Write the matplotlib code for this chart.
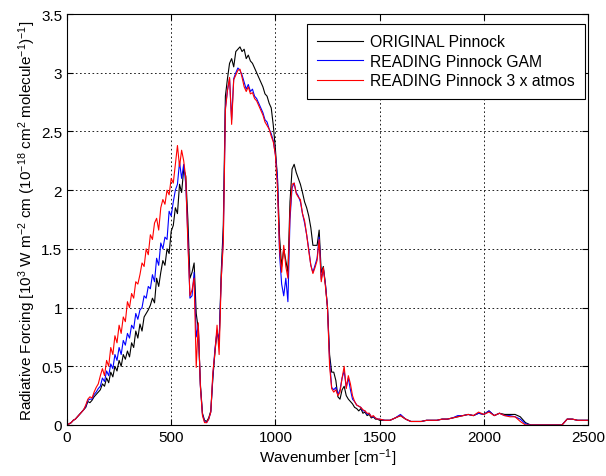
import numpy as np
import matplotlib
matplotlib.use("Agg")
import matplotlib.pyplot as plt

plt.rcParams["font.family"] = ["Liberation Sans", "DejaVu Sans"]
plt.rcParams["mathtext.default"] = "regular"

# ── Data ──────────────────────────────────────────────────────────────────────
# wavenumber grid: 10 cm-1 steps up to 1500, 25 cm-1 steps beyond
wn = np.concatenate([np.arange(0, 1501, 10), np.arange(1525, 2501, 25)])

original = [
    0.00, 0.01, 0.02, 0.04, 0.05, 0.07, 0.09, 0.11, 0.13, 0.15,
    0.20, 0.19, 0.21, 0.24, 0.26, 0.28, 0.30, 0.35, 0.33, 0.40,
    0.36, 0.45, 0.41, 0.50, 0.46, 0.55, 0.50, 0.60, 0.56, 0.63,
    0.58, 0.70, 0.66, 0.80, 0.74, 0.86, 0.80, 0.92, 0.95, 0.98,
    1.02, 1.08, 1.04, 1.25, 1.18, 1.30, 1.40, 1.36, 1.50, 1.46,
    1.65, 1.70, 1.85, 1.80, 2.05, 1.98, 2.18, 2.12, 1.75, 1.25,
    1.30, 1.38, 0.95, 0.82, 0.35, 0.10, 0.04, 0.03, 0.06, 0.12,
    0.40, 0.62, 0.80, 0.70, 1.30, 1.70, 2.80, 2.95, 3.08, 3.12,
    3.05, 3.18, 3.20, 3.22, 3.18, 3.20, 3.12, 3.15, 3.10, 3.08,
    3.04, 3.00, 2.96, 2.92, 2.88, 2.82, 2.80, 2.74, 2.70, 2.55,
    2.35, 2.10, 1.60, 1.35, 1.50, 1.40, 1.30, 1.90, 2.18, 2.22,
    2.15, 2.10, 2.05, 1.98, 1.90, 1.85, 1.78, 1.68, 1.53, 1.53,
    1.53, 1.66, 1.30, 1.35, 1.20, 1.00, 0.60, 0.45, 0.45, 0.38,
    0.24, 0.22, 0.30, 0.33, 0.25, 0.22, 0.20, 0.18, 0.15, 0.14,
    0.12, 0.14, 0.10, 0.11, 0.08, 0.09, 0.06, 0.07, 0.05, 0.05,
    0.04,
    0.04, 0.04, 0.06, 0.08, 0.05, 0.03, 0.03, 0.03, 0.04, 0.04,
    0.04, 0.05, 0.05, 0.06, 0.07, 0.08, 0.09, 0.08, 0.10, 0.09,
    0.12, 0.08, 0.10, 0.09, 0.09, 0.09, 0.07, 0.02, 0.00, 0.00,
    0.00, 0.00, 0.00, 0.00, 0.00, 0.05, 0.05, 0.04, 0.04, 0.04,
]

gam = [
    0.00, 0.01, 0.02, 0.04, 0.05, 0.07, 0.09, 0.11, 0.13, 0.16,
    0.21, 0.22, 0.22, 0.26, 0.28, 0.31, 0.33, 0.40, 0.37, 0.46,
    0.42, 0.52, 0.48, 0.60, 0.55, 0.66, 0.60, 0.72, 0.68, 0.78,
    0.74, 0.85, 0.82, 0.95, 0.90, 0.98, 1.00, 1.10, 1.08, 1.18,
    1.16, 1.28, 1.22, 1.42, 1.36, 1.55, 1.50, 1.60, 1.58, 1.82,
    1.78, 1.90, 2.00, 2.05, 2.24, 2.10, 2.22, 2.05, 1.60, 1.08,
    1.10, 1.30, 0.75, 0.85, 0.33, 0.09, 0.03, 0.02, 0.05, 0.11,
    0.42, 0.65, 0.80, 0.72, 1.24, 1.60, 2.70, 2.85, 2.95, 2.60,
    2.95, 3.00, 3.04, 3.02, 2.98, 2.92, 2.86, 2.90, 2.84, 2.86,
    2.80, 2.78, 2.74, 2.70, 2.66, 2.60, 2.58, 2.52, 2.48, 2.42,
    2.30, 2.10, 1.45, 1.20, 1.10, 1.25, 1.05, 1.75, 2.02, 2.06,
    1.98, 1.95, 1.90, 1.80, 1.72, 1.62, 1.50, 1.36, 1.30, 1.36,
    1.42, 1.60, 1.24, 1.33, 1.20, 1.00, 0.55, 0.32, 0.30, 0.32,
    0.26, 0.30, 0.40, 0.46, 0.32, 0.40, 0.30, 0.22, 0.20, 0.17,
    0.16, 0.15, 0.12, 0.12, 0.09, 0.10, 0.07, 0.07, 0.06, 0.05,
    0.05,
    0.04, 0.04, 0.06, 0.09, 0.05, 0.03, 0.03, 0.03, 0.04, 0.04,
    0.04, 0.05, 0.05, 0.06, 0.08, 0.08, 0.09, 0.08, 0.10, 0.09,
    0.12, 0.08, 0.10, 0.08, 0.08, 0.07, 0.05, 0.01, 0.00, 0.00,
    0.00, 0.00, 0.00, 0.00, 0.00, 0.05, 0.05, 0.04, 0.04, 0.04,
]

atmos3 = [
    0.00, 0.01, 0.02, 0.04, 0.05, 0.07, 0.09, 0.11, 0.13, 0.17,
    0.22, 0.24, 0.23, 0.28, 0.32, 0.35, 0.42, 0.48, 0.42, 0.55,
    0.50, 0.66, 0.60, 0.76, 0.70, 0.85, 0.78, 0.92, 0.88, 1.05,
    1.00, 1.12, 1.08, 1.22, 1.20, 1.28, 1.38, 1.35, 1.50, 1.45,
    1.62, 1.58, 1.72, 1.76, 1.66, 1.85, 1.92, 1.88, 2.00, 1.96,
    2.10, 2.06, 2.22, 2.38, 2.20, 2.34, 2.25, 2.10, 1.55, 1.10,
    1.15, 1.25, 0.49, 0.87, 0.33, 0.08, 0.02, 0.02, 0.05, 0.11,
    0.45, 0.62, 0.85, 0.60, 1.24, 1.55, 2.68, 2.85, 2.96, 2.56,
    2.94, 2.98, 3.02, 3.03, 2.96, 2.88, 2.84, 2.88, 2.82, 2.83,
    2.78, 2.76, 2.72, 2.68, 2.64, 2.58, 2.55, 2.52, 2.46, 2.41,
    2.30, 2.01, 1.50, 1.30, 1.53, 1.35, 1.25, 1.80, 2.05, 2.06,
    1.97, 1.94, 1.92, 1.80, 1.74, 1.62, 1.48, 1.36, 1.29, 1.34,
    1.40, 1.58, 1.22, 1.34, 1.18, 1.00, 0.50, 0.31, 0.28, 0.30,
    0.25, 0.28, 0.40, 0.50, 0.31, 0.42, 0.35, 0.25, 0.20, 0.17,
    0.16, 0.15, 0.13, 0.12, 0.10, 0.10, 0.07, 0.08, 0.06, 0.05,
    0.05,
    0.04, 0.04, 0.06, 0.08, 0.05, 0.03, 0.03, 0.03, 0.04, 0.04,
    0.04, 0.05, 0.05, 0.06, 0.07, 0.08, 0.09, 0.08, 0.11, 0.09,
    0.11, 0.08, 0.10, 0.08, 0.07, 0.07, 0.03, 0.00, 0.00, 0.00,
    0.00, 0.00, 0.00, 0.00, 0.00, 0.05, 0.05, 0.04, 0.04, 0.04,
]

labels = ["ORIGINAL Pinnock", "READING Pinnock GAM", "READING Pinnock 3 x atmos"]
colors = ["black", "#0000ff", "#ff0000"]

# ── Plot ──────────────────────────────────────────────────────────────────────
fig = plt.figure(figsize=(6.06, 4.77), dpi=100)
ax = fig.add_axes([67 / 606, 51 / 477, 521 / 606, 411 / 477])

for y, lab, c in zip([original, gam, atmos3], labels, colors):
    ax.plot(wn, y, color=c, lw=0.8, label=lab)

ax.set_xlim(0, 2500)
ax.set_ylim(0, 3.5)
ax.set_xticks([0, 500, 1000, 1500, 2000, 2500])
ax.set_yticks(np.arange(0, 3.51, 0.5))
ax.set_yticklabels(["0", "0.5", "1", "1.5", "2", "2.5", "3", "3.5"])
ax.grid(True, color="black", linestyle=(0, (2, 3)), lw=0.6)
ax.tick_params(direction="in", length=4, labelsize=11, top=True, right=True)
for s in ax.spines.values():
    s.set_linewidth(0.8)

ax.set_xlabel("Wavenumber [cm$^{-1}$]", fontsize=11, labelpad=2)
ax.set_ylabel("Radiative Forcing [10$^{3}$ W m$^{-2}$ cm (10$^{-18}$ cm$^{2}$ "
              "molecule$^{-1}$)$^{-1}$]", fontsize=11, labelpad=2)

leg = ax.legend(loc="upper right", bbox_to_anchor=(0.994, 0.976), fontsize=11.3,
                frameon=True, fancybox=False, edgecolor="black", framealpha=1,
                handlelength=2.9, handletextpad=0.45, borderpad=0.65,
                borderaxespad=0, labelspacing=0.3)
leg.get_frame().set_linewidth(0.8)

fig.savefig("out.png", dpi=100)
